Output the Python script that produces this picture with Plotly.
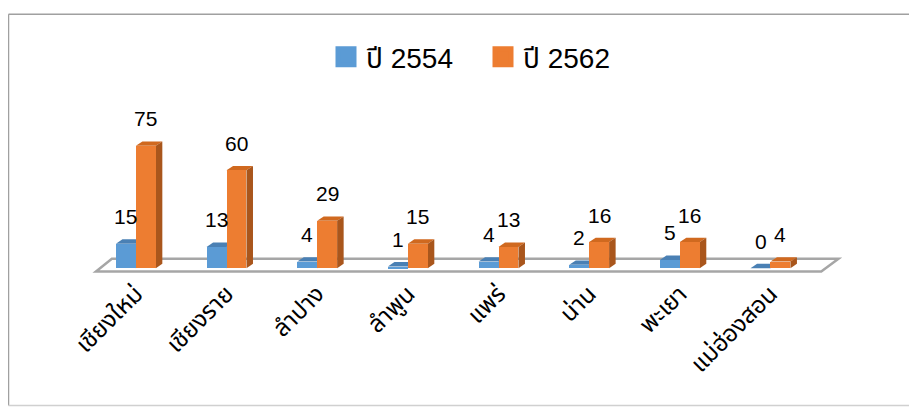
import plotly.graph_objects as go

categories = ["เชียงใหม่", "เชียงราย", "ลำปาง", "ลำพูน", "แพร่", "น่าน", "พะเยา", "แม่ฮ่องสอน"]
series_names = ["ปี 2554", "ปี 2562"]
values_2554 = [15, 13, 4, 1, 4, 2, 5, 0]
values_2562 = [75, 60, 29, 15, 13, 16, 16, 4]

colors = ["#5B9BD5", "#ED7D31"]
top_colors = ["#4A80B4", "#D0691F"]
side_colors = ["#3F6E9C", "#A9561C"]

BAR_W = 0.22          # width of each bar in category units
DX, DY = 0.072, 2.7   # 3D depth offset (category units, value units)

# the page body has an 8px margin; the figure is sized to fill the rest of the window
W, H = 909, 401
L, R, T, B = 78, 74, 82, 135
XR = [-0.55, 7.8]
YR = [-3.6, 106.8]

xs = list(range(len(categories)))
fig = go.Figure()
series = [values_2554, values_2562]
offsets = [-BAR_W, 0.0]

for k, (name, vals) in enumerate(zip(series_names, series)):
    fig.add_trace(go.Bar(
        x=xs, y=vals, name=name, width=BAR_W, offset=offsets[k],
        marker=dict(color=colors[k], line=dict(width=0)),
        showlegend=False, hoverinfo="y",
    ))
    # legend proxy
    fig.add_trace(go.Scatter(
        x=[None], y=[None], mode="markers", name=name,
        marker=dict(symbol="square", size=16, color=colors[k],
                    line=dict(width=5, color=colors[k])),
    ))

def poly(pts):
    return "M " + " L ".join(f"{x},{y}" for x, y in pts) + " Z"

shapes = []
# floor slab
fl = [(-0.44, -2.1), (7.56, -2.1), (7.75, 5.7), (-0.265, 5.7)]
shapes.append(dict(type="path", xref="x", yref="y", path=poly(fl), layer="below",
                   fillcolor="#FFFFFF", line=dict(color="#A6A6A6", width=2.5)))

for k, vals in enumerate(series):
    for i, v in zip(xs, vals):
        x0 = i + offsets[k]
        x1 = x0 + BAR_W
        shapes.append(dict(type="path", xref="x", yref="y", layer="below",
                           path=poly([(x0, v), (x1, v), (x1 + DX, v + DY), (x0 + DX, v + DY)]),
                           fillcolor=top_colors[k], line=dict(width=0)))
        if v > 0:
            shapes.append(dict(type="path", xref="x", yref="y", layer="below",
                               path=poly([(x1, 0), (x1, v), (x1 + DX, v + DY), (x1 + DX, DY)]),
                               fillcolor=side_colors[k], line=dict(width=0)))

# outer chart frame (top/left darker, bottom lighter)
pw, ph = W - L - R, H - T - B
def px2x(p): return (p - L) / pw
def py2y(p): return (H - B - p) / ph
shapes.append(dict(type="line", xref="paper", yref="paper",
                   x0=px2x(0.5), x1=px2x(W), y0=py2y(0.5), y1=py2y(0.5),
                   line=dict(color="#A0A0A0", width=1.5)))
shapes.append(dict(type="line", xref="paper", yref="paper",
                   x0=px2x(0.5), x1=px2x(0.5), y0=py2y(0.5), y1=py2y(H - 0.5),
                   line=dict(color="#A0A0A0", width=1.5)))
shapes.append(dict(type="line", xref="paper", yref="paper",
                   x0=px2x(0.5), x1=px2x(W), y0=py2y(H - 0.7), y1=py2y(H - 0.7),
                   line=dict(color="#D0D0D0", width=1.5)))

annotations = []
for k, vals in enumerate(series):
    for i, v in zip(xs, vals):
        annotations.append(dict(
            x=i + offsets[k] + BAR_W / 2, y=v, xref="x", yref="y",
            text=str(v), showarrow=False, yanchor="middle", yshift=27,
            font=dict(size=21, color="#000000", family="Liberation Sans, Arial, sans-serif"),
        ))

fig.update_layout(
    width=W, height=H,
    margin=dict(l=L, r=R, t=T, b=B, pad=0),
    paper_bgcolor="#FFFFFF", plot_bgcolor="rgba(0,0,0,0)",
    bargap=0, barmode="overlay",
    font=dict(family="Tahoma, 'Noto Sans Thai', 'Liberation Sans', sans-serif", color="#000000"),
    shapes=shapes, annotations=annotations,
    legend=dict(orientation="h", xref="container", yref="container",
                x=(483 - 8) / W, y=1 - (57 - 8) / H, xanchor="center", yanchor="middle",
                entrywidth=112, entrywidthmode="pixels",
                font=dict(size=28, color="#000000",
                          family="'Liberation Sans', Arial, 'Noto Sans Thai', sans-serif"),
                itemclick=False, bgcolor="rgba(0,0,0,0)", tracegroupgap=0),
    xaxis=dict(range=XR, tickmode="array", tickvals=xs, ticktext=categories,
               tickangle=-45, showgrid=False, zeroline=False, showline=False,
               ticks="", tickfont=dict(size=24, color="#000000"), fixedrange=True),
    yaxis=dict(range=YR, visible=False, showgrid=False, zeroline=False, fixedrange=True),
)

fig.write_html("out.html")
